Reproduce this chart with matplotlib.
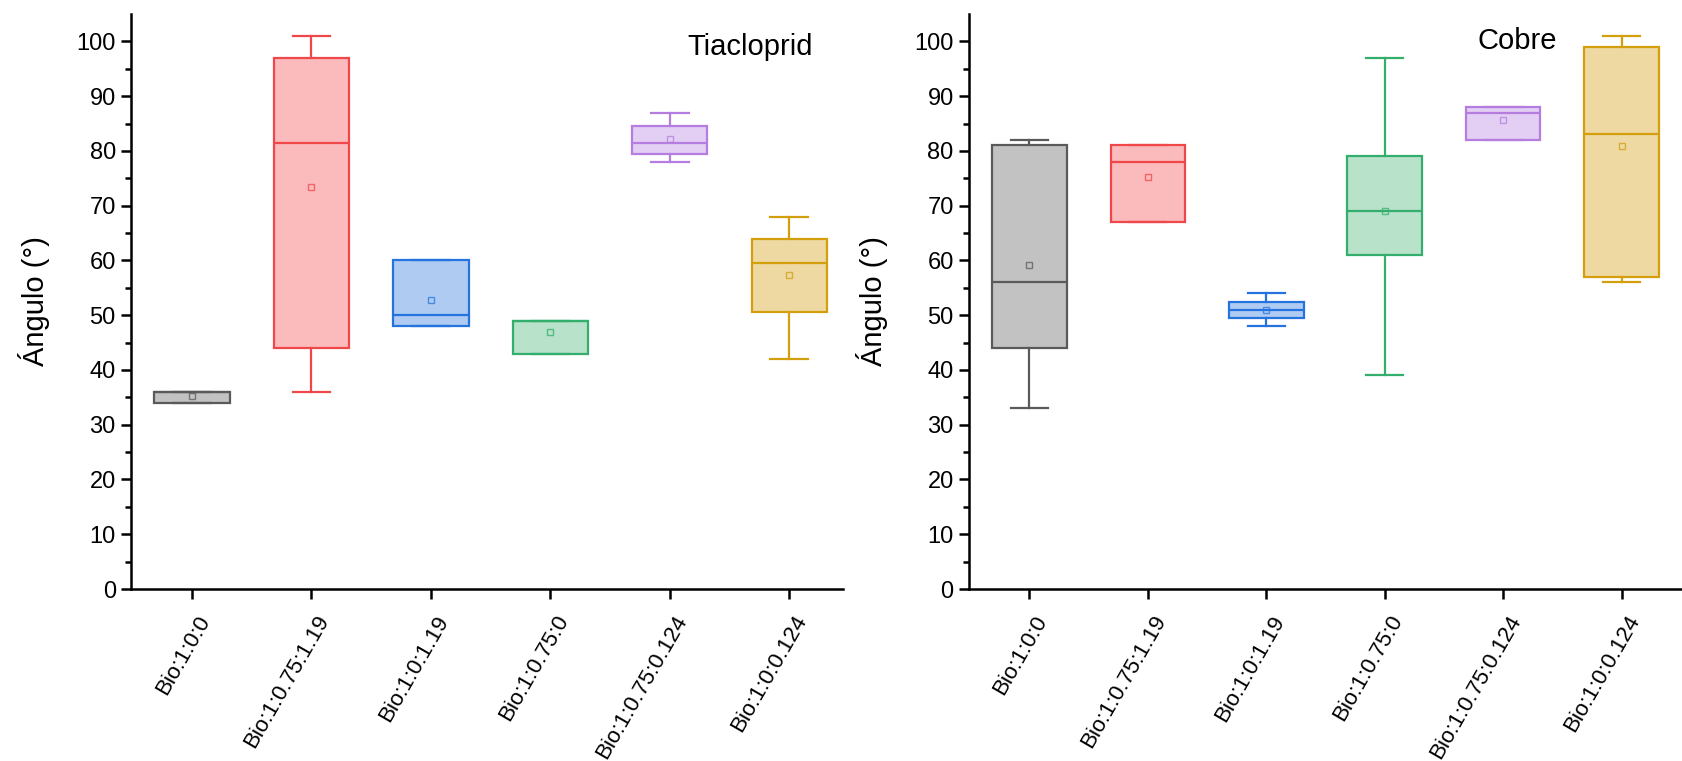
import numpy as np
import matplotlib
matplotlib.use("Agg")
import matplotlib.pyplot as plt
import matplotlib.transforms as mtransforms

plt.rcParams['font.family'] = ['Liberation Sans', 'DejaVu Sans']

categories = ['Bio:1:0:0', 'Bio:1:0.75:1.19', 'Bio:1:0:1.19',
              'Bio:1:0.75:0', 'Bio:1:0.75:0.124', 'Bio:1:0:0.124']

# box stats: whislo, q1, med, q3, whishi, mean
tia_whislo = [34, 36, 48, 43, 78, 42]
tia_q1 = [34, 44, 48, 43, 79.5, 50.5]
tia_med = [36, 81.5, 50, 49, 81.5, 59.5]
tia_q3 = [36, 97, 60, 49, 84.5, 64]
tia_whishi = [36, 101, 60, 49, 87, 68]
tia_mean = [35.3, 73.5, 52.7, 47.0, 82.1, 57.3]

cob_whislo = [33, 67, 48, 39, 82, 56]
cob_q1 = [44, 67, 49.5, 61, 82, 57]
cob_med = [56, 78, 51, 69, 87, 83]
cob_q3 = [81, 81, 52.5, 79, 88, 99]
cob_whishi = [82, 81, 54, 97, 88, 101]
cob_mean = [59.2, 75.3, 51.0, 69.0, 85.7, 80.9]

edge_colors = ['#5a5a5a', '#f0484a', '#2473de', '#34ae6c', '#b47ddf', '#d49f0c']
fill_colors = ['#c2c2c2', '#fbbabb', '#afcbf2', '#b8e2ca', '#e3cff3', '#eed9a3']


def draw_panel(ax, whislo, q1, med, q3, whishi, mean, title, title_x, title_y, xmax):
    stats = []
    for i in range(len(categories)):
        stats.append(dict(whislo=whislo[i], q1=q1[i], med=med[i], q3=q3[i],
                          whishi=whishi[i], mean=mean[i], fliers=[]))
    pos = np.arange(1, len(categories) + 1)
    bp = ax.bxp(stats, positions=pos, widths=0.63, patch_artist=True,
                showmeans=True, showfliers=False)
    for i in range(len(categories)):
        ec = edge_colors[i]
        bp['boxes'][i].set(facecolor=fill_colors[i], edgecolor=ec, linewidth=1.6)
        bp['medians'][i].set(color=ec, linewidth=1.6)
        for k in (2 * i, 2 * i + 1):
            bp['whiskers'][k].set(color=ec, linewidth=1.6)
            bp['caps'][k].set(color=ec, linewidth=1.6)
        bp['means'][i].set(marker='s', markerfacecolor='none', markeredgecolor=ec,
                           markersize=5, markeredgewidth=1.0, alpha=0.75)

    ax.set_xlim(0.49, xmax)
    ax.set_ylim(0, 105)
    ax.set_yticks(np.arange(0, 101, 10))
    ax.set_yticks(np.arange(5, 101, 10), minor=True)
    ax.spines['top'].set_visible(False)
    ax.spines['right'].set_visible(False)
    for s in ('left', 'bottom'):
        ax.spines[s].set_linewidth(1.8)
    ax.tick_params(axis='both', which='major', direction='out', length=7.5,
                   width=1.8, labelsize=17)
    ax.tick_params(axis='y', which='minor', direction='out', length=4, width=1.8)
    ax.tick_params(axis='x', which='major', pad=4)
    ax.set_ylabel('Ángulo (°)', fontsize=21, labelpad=19)
    ax.text(title_x, title_y, title, transform=ax.transAxes, fontsize=21,
            ha='left', va='baseline')

    # rotated category labels, nudged right/down (after tick_params)
    ax.set_xticks(pos)
    ax.set_xticklabels(categories, rotation=60, ha='right', va='center',
                       rotation_mode='anchor', fontsize=16)
    offset = mtransforms.ScaledTranslation(0.13, -0.12, ax.figure.dpi_scale_trans)
    for lab in ax.get_xticklabels():
        lab.set_transform(lab.get_transform() + offset)


fig = plt.figure(figsize=(16.82, 7.61), dpi=100)
ax1 = fig.add_axes([0.0779, 0.226, 0.4233, 0.7556])
ax2 = fig.add_axes([0.5761, 0.226, 0.4239, 0.7556])

draw_panel(ax1, tia_whislo, tia_q1, tia_med, tia_q3, tia_whishi, tia_mean,
           'Tiacloprid', 0.782, 0.929, 6.45)
draw_panel(ax2, cob_whislo, cob_q1, cob_med, cob_q3, cob_whishi, cob_mean,
           'Cobre', 0.7125, 0.9386, 6.51)

fig.savefig('out.png', dpi=100)
